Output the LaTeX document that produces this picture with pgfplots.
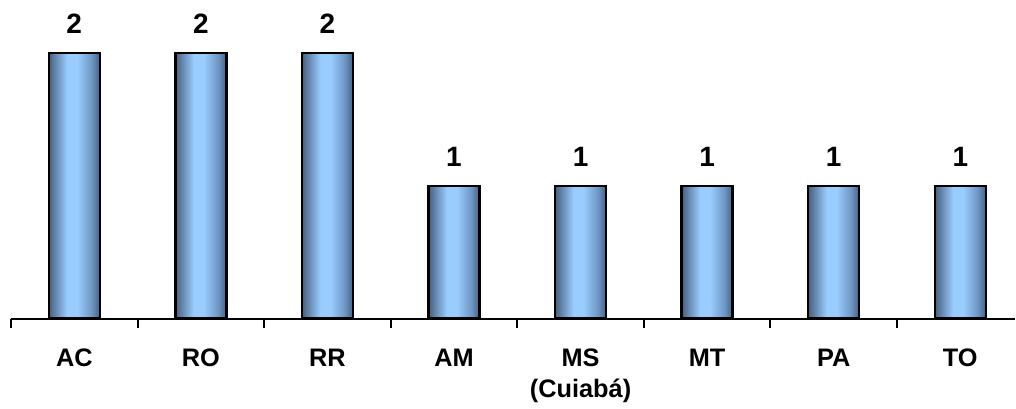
\documentclass[border=0pt]{standalone}
\usepackage{pgfplots}
\pgfplotsset{compat=1.18}
\usepackage{fontspec}
\setmainfont{Liberation Sans}
\definecolor{bardark}{RGB}{70,96,128}
\definecolor{barlight}{RGB}{153,204,255}
\definecolor{barmid}{RGB}{110,150,195}
\pgfdeclarehorizontalshading{barshade}{100bp}{color(0bp)=(bardark); color(25bp)=(bardark); color(43bp)=(barlight); color(53bp)=(barlight); color(67bp)=(barmid); color(75bp)=(bardark); color(100bp)=(bardark)}
\pgfplotsset{barstyle/.style={ybar, bar width=38.25pt, bar shift=0pt, draw=black, line width=1.8pt, shading=barshade, mark=none}}
\newcommand{\twoline}[2]{\vtop{\halign{\hfil##\hfil\cr #1\cr #2\cr}}}
\begin{document}
\begin{tikzpicture}
\begin{axis}[
  scale only axis,
  width=753.75pt, height=239.25pt,
  xmin=-0.5, xmax=7.432, ymin=0, ymax=2.398,
  hide y axis,
  axis x line*=bottom,
  axis line style={line width=1.5pt},
  clip=false,
  xtick={-0.5,0.5,1.5,2.5,3.5,4.5,5.5,6.5},
  xticklabels={},
  major tick length=7pt,
  tick align=outside,
  tick style={line width=1.5pt, black},
  extra x ticks={0,1,2,3,4,5,6,7},
  extra x tick labels={AC,RO,RR,AM,{\twoline{MS}{(Cuiabá)}},MT,PA,TO},
  extra x tick style={major tick length=0pt},
  xticklabel style={font=\bfseries\fontsize{19}{23.25}\selectfont, anchor=base, inner sep=0pt, yshift=-36pt},
  nodes near coords={\textbf{\pgfmathprintnumber[assume math mode=true]{\pgfplotspointmeta}}},
  every node near coord/.append style={font=\bfseries\fontsize{21}{25}\selectfont, anchor=south, inner sep=0pt, yshift=13.5pt, text=black},
]
\addplot[barstyle] coordinates {(0,2)};
\addplot[barstyle] coordinates {(1,2)};
\addplot[barstyle] coordinates {(2,2)};
\addplot[barstyle] coordinates {(3,1)};
\addplot[barstyle] coordinates {(4,1)};
\addplot[barstyle] coordinates {(5,1)};
\addplot[barstyle] coordinates {(6,1)};
\addplot[barstyle] coordinates {(7,1)};
\end{axis}
\path (current axis.south west) ++(-8.25pt,-67.5pt);
\path (current axis.north east);
\end{tikzpicture}
\end{document}
